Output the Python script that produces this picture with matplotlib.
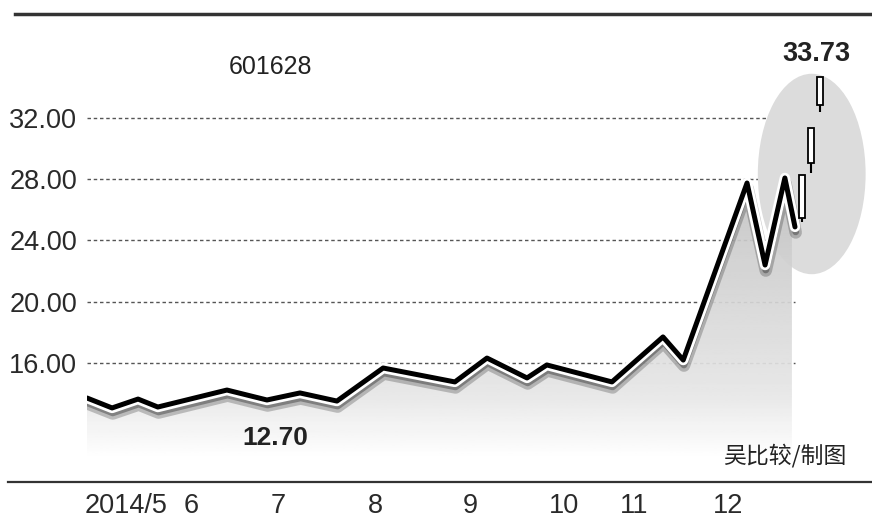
import numpy as np
import matplotlib.pyplot as plt
import matplotlib.patheffects as pe
from matplotlib.patches import Ellipse, Polygon
from matplotlib.lines import Line2D

plt.rcParams['font.family'] = ['Liberation Sans', 'DejaVu Sans']

# trading-day index and close price of 601628
days = [0, 5.7, 11.6, 16.1, 31.8, 40.9, 48.4, 56.8, 67.3, 83.6, 90.9, 100.0,
        104.5, 119.3, 130.9, 135.5, 150.0, 154.1, 158.6, 160.9]
price = [13.70, 13.05, 13.63, 13.11, 14.22, 13.57, 14.03, 13.50, 15.66, 14.75,
         16.31, 15.01, 15.86, 14.75, 17.69, 16.18, 27.75, 22.39, 28.08, 24.88]

# last three sessions drawn as candles
c_days = [162.5, 164.5, 166.5]
c_open = [25.46, 29.06, 32.85]
c_close = [28.27, 31.35, 34.68]
c_low = [25.20, 28.41, 32.39]

y_ticks = [16, 20, 24, 28, 32]
month_pos = [8.9, 23.6, 43.4, 65.5, 87.0, 108.4, 124.3, 145.7]
month_labels = ['2014/5', '6', '7', '8', '9', '10', '11', '12']

fig = plt.figure(figsize=(8.72, 5.19), dpi=100)
ax = fig.add_axes([87 / 872, 37 / 519, 785 / 872, 482 / 519])
xmin, xmax = 0, 178.4
ymin, ymax = 8.21, 39.71

# gridlines
ax.hlines(y_ticks, 0, 161, colors='#555555', linestyles=(0, (2.5, 2)),
          linewidth=1.0, zorder=1)

# highlight ellipse
ax.add_patch(Ellipse((164.7, 28.34), 24.5, 13.1, facecolor='#dcdcdc',
                     edgecolor='none', zorder=1.5))

# gradient fill under the line
fill_end = 160.2
edge = np.interp(fill_end, days, price)
xs = [d for d in days if d < fill_end] + [fill_end, fill_end, 0]
ys = [p for d, p in zip(days, price) if d < fill_end] + [edge, ymin, ymin]
poly = Polygon(np.column_stack([xs, ys]), closed=True,
               facecolor='none', edgecolor='none')
ax.add_patch(poly)
gy = np.linspace(29, ymin, 200)
shade = np.interp(gy, [ymin, 9.8, 14, 28], [1.0, 1.0, 0.9, 0.76])
img = ax.imshow(shade[:, None], cmap='gray', vmin=0, vmax=1,
                extent=[0, fill_end, ymin, 29], aspect='auto',
                origin='upper', zorder=2, alpha=0.92)
img.set_clip_path(poly)

# price line with white halo and soft shadow
ax.plot(days, price, color='black', lw=3.6, zorder=5,
        solid_joinstyle='round', solid_capstyle='round',
        path_effects=[pe.SimpleLineShadow(offset=(0.5, -4), shadow_color='black',
                                          alpha=0.22, linewidth=9),
                      pe.SimpleLineShadow(offset=(0.5, -3.5), shadow_color='black',
                                          alpha=0.3, linewidth=5),
                      pe.Stroke(linewidth=7.5, foreground='white'),
                      pe.Normal()])

# candles
ax.vlines(c_days, c_low, c_open, color='black', lw=1.5, zorder=6)
ax.bar(c_days, np.subtract(c_close, c_open), bottom=c_open, width=1.4,
       facecolor='white', edgecolor='black', linewidth=1.3, zorder=7)

ax.set_xlim(xmin, xmax)
ax.set_ylim(ymin, ymax)
for s in ax.spines.values():
    s.set_visible(False)
ax.set_yticks(y_ticks)
ax.set_yticklabels([f'{v:.2f}' for v in y_ticks])
ax.set_xticks(month_pos)
ax.set_xticklabels(month_labels)
ax.tick_params(axis='y', length=0, pad=7, labelsize=19.5, labelcolor='#2a2a2a')
ax.tick_params(axis='x', length=0, pad=8, labelsize=19.5, labelcolor='#2a2a2a')

# annotations
ax.text(41.6, 35.33, '601628', ha='center', va='center', fontsize=18,
        color='#222222')
ax.text(42.7, 11.08, '12.70', ha='center', va='center', fontsize=19,
        fontweight='bold', color='#222222')
ax.text(165.7, 36.18, '33.73', ha='center', va='center', fontsize=19.5,
        fontweight='bold', color='#222222')
ax.text(172.7, 9.97, '吴比较/制图', ha='right', va='center', fontsize=16.5,
        family=['Noto Sans CJK SC', 'DejaVu Sans'], color='#222222')

# frame rules at top and bottom
fig.add_artist(Line2D([15 / 872, 1], [1 - 14 / 519] * 2, color='#333333', lw=2.5))
fig.add_artist(Line2D([8 / 872, 1], [1 - 482 / 519] * 2, color='#333333', lw=1.6))

fig.savefig('out.png', dpi=100)
